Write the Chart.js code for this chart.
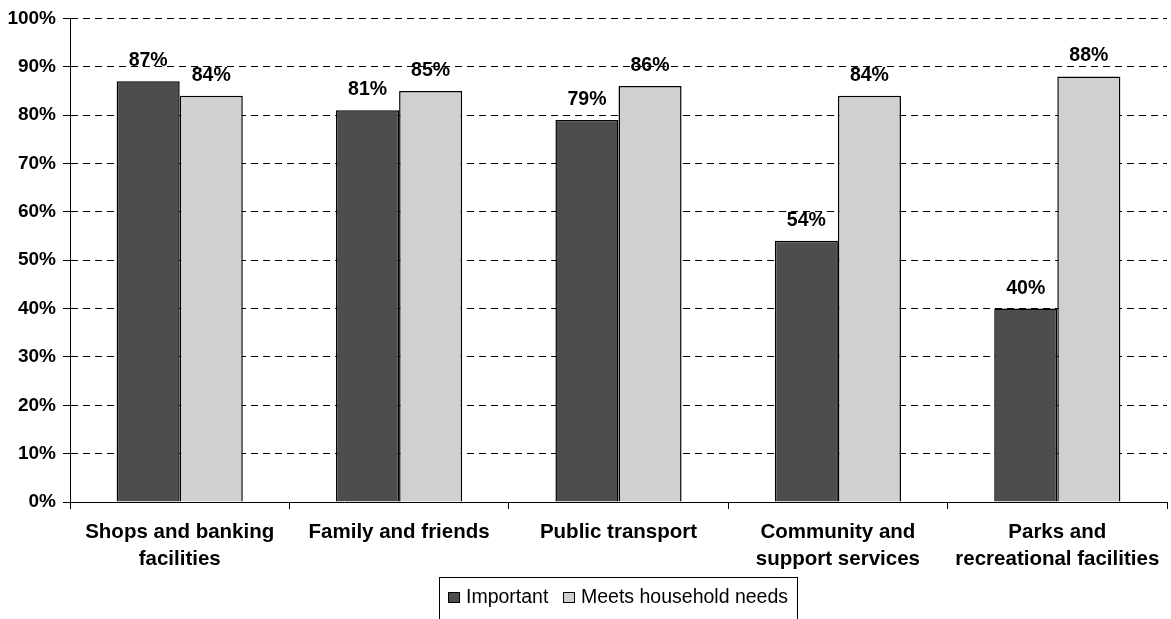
<!DOCTYPE html>
<html>
<head>
<meta charset="utf-8">
<script src="https://cdn.jsdelivr.net/npm/chart.js@4/dist/chart.umd.min.js"></script>
<style>
  html, body { margin: 0; padding: 0; background: #fff; }
  #wrap { width: 1171px; height: 619px; position: relative; }
</style>
</head>
<body>
<div id="wrap"><canvas id="c" width="1171" height="619"></canvas></div>
<script>
// Survey results: share of households rating each local service
const categories = [
  ['Shops and banking', 'facilities'],
  'Family and friends',
  'Public transport',
  ['Community and', 'support services'],
  ['Parks and', 'recreational facilities']
];
const seriesNames = ['Important', 'Meets household needs'];
const importantValues = [87, 81, 79, 54, 40];
const meetsNeedsValues = [84, 85, 86, 84, 88];
const yTicks = [0, 10, 20, 30, 40, 50, 60, 70, 80, 90, 100];

const FONT = '"Liberation Sans", Arial, sans-serif';

// Percent labels above each bar
const valueLabels = {
  id: 'valueLabels',
  afterDatasetsDraw(chart) {
    const ctx = chart.ctx;
    ctx.save();
    ctx.font = 'bold 19.5px ' + FONT;
    ctx.fillStyle = '#000';
    ctx.textAlign = 'center';
    ctx.textBaseline = 'alphabetic';
    chart.data.datasets.forEach((ds, i) => {
      chart.getDatasetMeta(i).data.forEach((bar, j) => {
        ctx.fillText(ds.data[j] + '%', bar.x, bar.y - 15);
      });
    });
    ctx.restore();
  }
};

// Boxed legend below the category labels
const boxedLegend = {
  id: 'boxedLegend',
  afterDraw(chart) {
    const ctx = chart.ctx;
    const boxX = 439.5, boxY = 577.5, boxW = 358, boxH = 60;
    ctx.save();
    ctx.strokeStyle = '#000';
    ctx.lineWidth = 1;
    ctx.strokeRect(boxX, boxY, boxW, boxH);
    ctx.font = '19.5px ' + FONT;
    ctx.textBaseline = 'alphabetic';
    ctx.textAlign = 'left';
    const items = [{ sx: 448, tx: 466 }, { sx: 563, tx: 581 }];
    chart.data.datasets.forEach((ds, i) => {
      const it = items[i];
      ctx.fillStyle = ds.backgroundColor;
      ctx.fillRect(it.sx, 592, 12, 11);
      ctx.strokeStyle = '#000';
      ctx.strokeRect(it.sx + 0.5, 592.5, 11, 10);
      ctx.fillStyle = '#000';
      ctx.fillText(ds.label, it.tx, 603);
    });
    ctx.restore();
  }
};

new Chart(document.getElementById('c'), {
  type: 'bar',
  data: {
    labels: categories,
    datasets: [
      {
        label: seriesNames[0],
        data: importantValues,
        backgroundColor: '#4d4d4d',
        borderColor: '#000',
        borderWidth: 1.5,
        categoryPercentage: 0.575,
        barPercentage: 1
      },
      {
        label: seriesNames[1],
        data: meetsNeedsValues,
        backgroundColor: '#d0d0d0',
        borderColor: '#000',
        borderWidth: 1.5,
        categoryPercentage: 0.575,
        barPercentage: 1
      }
    ]
  },
  options: {
    responsive: false,
    animation: false,
    layout: { padding: { top: 17, right: 4, bottom: 0, left: 0 } },
    plugins: {
      legend: { display: false },
      tooltip: { enabled: false }
    },
    scales: {
      x: {
        grid: {
          display: true,
          drawOnChartArea: false,
          drawTicks: true,
          tickLength: 7,
          color: '#000',
          offset: true
        },
        border: { display: true, color: '#000', width: 1 },
        ticks: {
          color: '#000',
          font: { family: FONT, size: 20.5, weight: 'bold', lineHeight: 1.32 },
          padding: 10,
          maxRotation: 0,
          autoSkip: false
        },
        afterFit(scale) { scale.height = 117; }
      },
      y: {
        min: 0,
        max: 100,
        afterBuildTicks(scale) { scale.ticks = yTicks.map(v => ({ value: v })); },
        ticks: {
          color: '#000',
          font: { family: FONT, size: 19, weight: 'bold' },
          padding: 7,
          callback: v => v + '%'
        },
        grid: {
          color: '#000',
          lineWidth: 1,
          tickLength: 7,
          tickBorderDash: []
        },
        border: { display: true, color: '#000', width: 1, dash: [7, 5] },
        afterFit(scale) { scale.width = 70; }
      }
    }
  },
  plugins: [valueLabels, boxedLegend]
});
</script>
</body>
</html>
